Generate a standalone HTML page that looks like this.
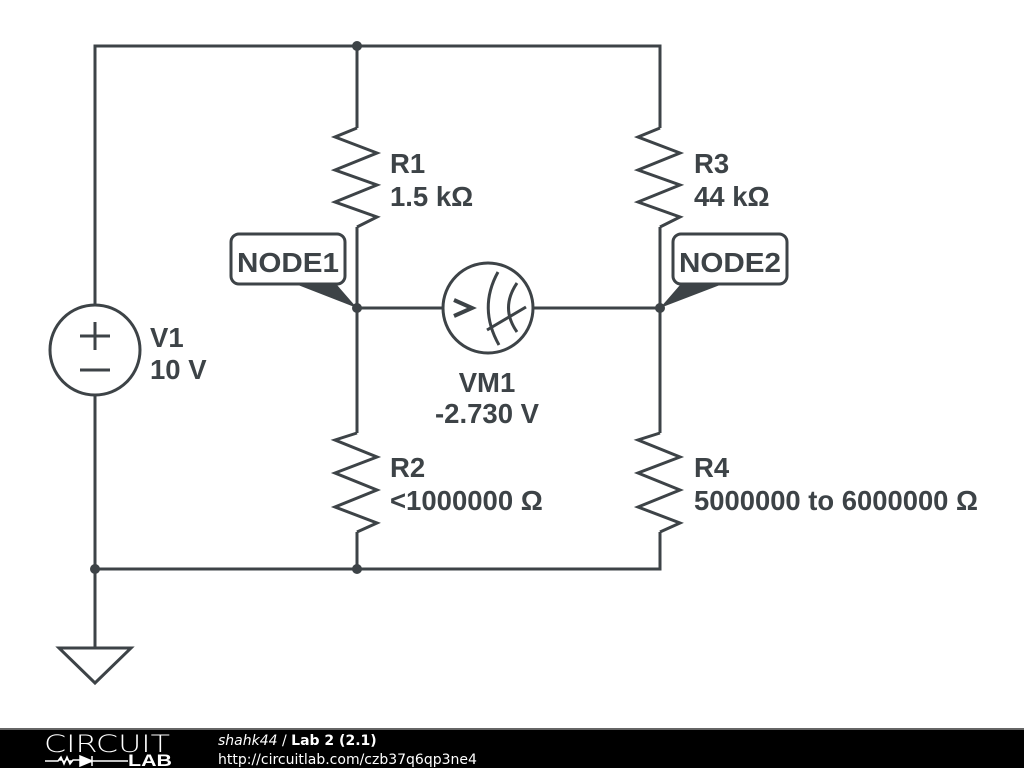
<!DOCTYPE html>
<html><head><meta charset="utf-8"><style>
html,body{margin:0;padding:0;background:#fff;width:1024px;height:768px;overflow:hidden}
svg{display:block}
.t{font-family:"Liberation Sans",Arial,sans-serif;font-weight:bold;font-size:27.5px;fill:#3d4347}
</style></head><body>
<svg width="1024" height="768" viewBox="0 0 1024 768" xmlns="http://www.w3.org/2000/svg">
<g stroke="#3d4347" stroke-width="3" fill="none" stroke-linejoin="miter">
<path d="M95,305 V46 H660 V128"/>
<path d="M357,46 V128"/>
<path d="M95,395 V648"/>
<path d="M95,569 H660 V532"/>
<path d="M357,569 V532"/>
<path d="M357,227 V433"/>
<path d="M660,227 V433"/>
<path d="M357,308 H443 M532,308 H660"/>
<path d="M357,128 L335,137 L377,153 L335,170 L377,185 L335,202 L377,217 L357,227"/>
<path d="M660,128 L638,137 L680,153 L638,170 L680,185 L638,202 L680,217 L660,227"/>
<path d="M357,433 L335,440 L377,457 L335,473 L377,490 L335,507 L377,523 L357,532"/>
<path d="M660,433 L638,440 L680,457 L638,473 L680,490 L638,507 L680,523 L660,532"/>
<circle cx="95" cy="350" r="45"/>
<path d="M80,336 H110 M95,322 V350 M80,370 H110"/>
<path d="M59,648 H131 L95,683 Z"/>
<circle cx="488" cy="308" r="45"/>
<path d="M454,300 L472,308 L454,316" stroke-width="4"/>
<path d="M498,272 Q478,308 499,345"/>
<path d="M517,283 Q500,308 517,332"/>
<path d="M487,330 L526,307"/>
<rect x="231" y="234" width="114" height="50" rx="8" fill="#fff"/>
<rect x="673" y="234" width="114" height="50" rx="8" fill="#fff"/>
</g>
<g fill="#3d4347">
<path d="M298,285 L337,285 L357,308 Z"/>
<path d="M680,285 L720,285 L660,308 Z"/>
<circle cx="357" cy="46" r="5"/>
<circle cx="357" cy="308" r="5"/>
<circle cx="660" cy="308" r="5"/>
<circle cx="95" cy="569" r="5"/>
<circle cx="357" cy="569" r="5"/>
</g>
<text class="t" x="288" y="272" text-anchor="middle" textLength="102" lengthAdjust="spacingAndGlyphs">NODE1</text>
<text class="t" x="730" y="272" text-anchor="middle" textLength="102" lengthAdjust="spacingAndGlyphs">NODE2</text>
<text class="t" x="390" y="173">R1</text>
<text class="t" x="390" y="206">1.5 kΩ</text>
<text class="t" x="694" y="173">R3</text>
<text class="t" x="694" y="206">44 kΩ</text>
<text class="t" x="150" y="347">V1</text>
<text class="t" x="150" y="379">10 V</text>
<text class="t" x="487" y="392" text-anchor="middle">VM1</text>
<text class="t" x="487" y="423" text-anchor="middle">-2.730 V</text>
<text class="t" x="390" y="477">R2</text>
<text class="t" x="390" y="510">&lt;1000000 Ω</text>
<text class="t" x="694" y="477">R4</text>
<text class="t" x="694" y="510" textLength="284" lengthAdjust="spacingAndGlyphs">5000000 to 6000000 Ω</text>
<rect x="0" y="728" width="1024" height="40" fill="#000"/>
<rect x="0" y="728" width="1024" height="2" fill="#666"/>
<text x="44" y="752" font-family="DejaVu Sans,sans-serif" font-weight="200" font-size="24" fill="#fff" textLength="126" lengthAdjust="spacingAndGlyphs">CIRCUIT</text>
<path d="M45,761 H58 l3,-4 3,7 3,-7 3,7 3,-4 H80 M80,756 V766 L92,761 Z M92,756 V766 M92,761 H128" stroke="#fff" stroke-width="1.5" fill="#fff"/>
<text x="128" y="766" font-family="Liberation Sans,sans-serif" font-weight="bold" font-size="17" fill="#fff" textLength="44" lengthAdjust="spacingAndGlyphs">LAB</text>
<text x="218" y="745" font-family="DejaVu Sans,sans-serif" font-size="14" fill="#fff"><tspan font-style="italic">shahk44</tspan> / <tspan font-weight="bold">Lab 2 (2.1)</tspan></text>
<text x="218" y="764" font-family="DejaVu Sans,sans-serif" font-size="14" fill="#fff">http://circuitlab.com/czb37q6qp3ne4</text>
</svg>
</body></html>
